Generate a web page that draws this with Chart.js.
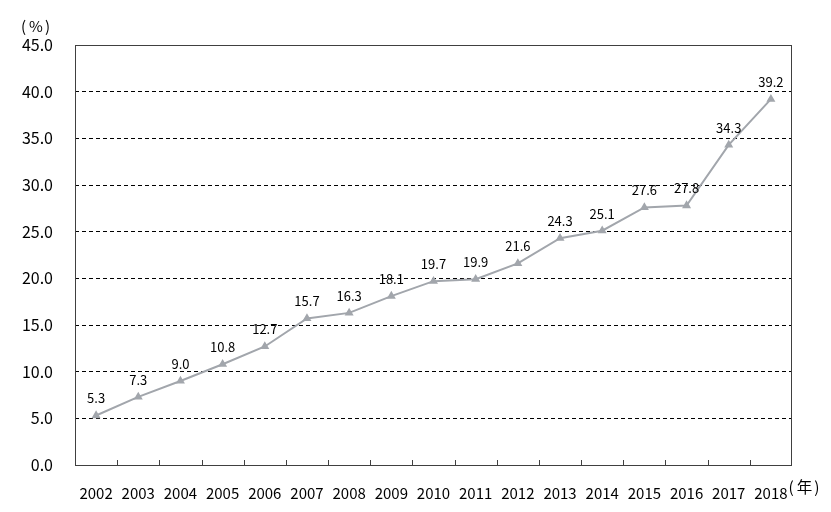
<!DOCTYPE html>
<html><head><meta charset="utf-8">
<script src="https://cdn.jsdelivr.net/npm/chart.js@4/dist/chart.umd.min.js"></script>
<style>html,body{margin:0;padding:0;background:#fff}#wrap{width:831px;height:512px}</style>
</head><body><div id="wrap"><canvas id="c" width="831" height="512"></canvas></div>
<script>
const years = ["2002","2003","2004","2005","2006","2007","2008","2009","2010","2011","2012","2013","2014","2015","2016","2017","2018"];
const shareValues = [5.3,7.3,9.0,10.8,12.7,15.7,16.3,18.1,19.7,19.9,21.6,24.3,25.1,27.6,27.8,34.3,39.2];
const yTicks = [0,5,10,15,20,25,30,35,40,45];
const yUnit = "%";
const xUnit = "年";
const FONT = "'Noto Sans CJK JP', 'Noto Sans', sans-serif";

function drawParenText(ctx, text, x, y, size) {
  // "(" text ")" with narrow parentheses, starting at x
  ctx.font = size + 'px ' + FONT;
  ctx.textAlign = 'left'; ctx.textBaseline = 'middle';
  ctx.fillText('(', x, y);
  let cx = x + ctx.measureText('(').width + 3;
  ctx.fillText(text, cx, y);
  cx += ctx.measureText(text).width + 2;
  ctx.fillText(')', cx, y);
}

const extras = {
  id: 'extras',
  afterDraw(chart) {
    const {ctx, chartArea: a, scales} = chart;
    ctx.save();
    ctx.strokeStyle = '#404040'; ctx.lineWidth = 1; ctx.setLineDash([]);
    ctx.strokeRect(a.left + 0.5, a.top + 0.5, a.right - a.left - 1, a.bottom - a.top);
    const n = years.length, w = (a.right - a.left) / n;
    ctx.beginPath();
    for (let i = 1; i < n; i++) {
      const x = Math.round(a.left + i * w) + 0.5;
      ctx.moveTo(x, a.bottom); ctx.lineTo(x, a.bottom - 5);
    }
    ctx.stroke();
    const meta = chart.getDatasetMeta(0);
    ctx.fillStyle = '#000';
    ctx.font = '13px ' + FONT;
    ctx.textAlign = 'center'; ctx.textBaseline = 'middle';
    meta.data.forEach((pt, i) => {
      ctx.fillText(shareValues[i].toFixed(1), pt.x, pt.y - 17);
    });
    drawParenText(ctx, yUnit, 21, 26, 15);
    ctx.font = '15px ' + FONT;
    const lastX = scales.x.getPixelForValue(n - 1) + ctx.measureText(years[n - 1]).width / 2 + 1;
    drawParenText(ctx, xUnit, lastX, 487, 15.5);
    ctx.restore();
  }
};

new Chart(document.getElementById('c'), {
  type: 'line',
  data: {
    labels: years,
    datasets: [{
      data: shareValues,
      borderColor: '#A2A6AC',
      backgroundColor: '#A2A6AC',
      borderWidth: 2,
      pointStyle: 'triangle',
      pointRadius: 3.2,
      pointHoverRadius: 3.2,
      tension: 0
    }]
  },
  options: {
    responsive: false,
    animation: false,
    devicePixelRatio: 1,
    layout: {padding: {left: 0, right: 39, top: 45, bottom: 0}},
    plugins: {legend: {display: false}, tooltip: {enabled: false}},
    scales: {
      x: {
        type: 'category',
        offset: true,
        grid: {display: false},
        border: {display: false},
        ticks: {color: '#000', font: {family: FONT, size: 15}, padding: 11, maxRotation: 0, autoSkip: false},
        afterFit(s) { s.height = 47; }
      },
      y: {
        min: 0, max: 45,
        afterBuildTicks(s) { s.ticks = yTicks.map(v => ({value: v})); },
        grid: {color: '#000', lineWidth: 1, drawTicks: false},
        border: {display: false, dash: [4, 3]},
        ticks: {color: '#000', font: {family: FONT, size: 16}, padding: 22,
          callback: v => Number(v).toFixed(1)},
        afterFit(s) { s.width = 75; }
      }
    }
  },
  plugins: [extras]
});
</script></body></html>
